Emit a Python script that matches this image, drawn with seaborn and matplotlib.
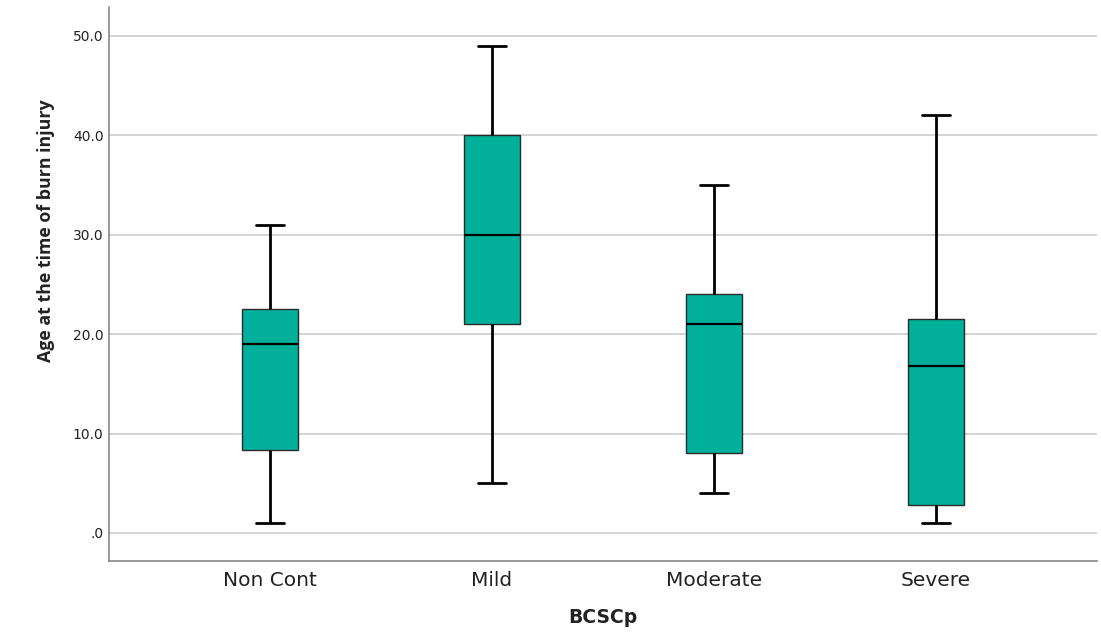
import numpy as np
import pandas as pd
import matplotlib
matplotlib.use("Agg")
import matplotlib.pyplot as plt
import seaborn as sns

# Groups of burn scar severity and the five-number summary of age per group
categories = ["Non Cont", "Mild", "Moderate", "Severe"]
age_min = [1.0, 5.0, 4.0, 1.0]
age_q1 = [8.3, 21.0, 8.0, 2.8]
age_median = [19.0, 30.0, 21.0, 16.8]
age_q3 = [22.5, 40.0, 24.0, 21.5]
age_max = [31.0, 49.0, 35.0, 42.0]
y_ticks = [0, 10, 20, 30, 40, 50]
y_tick_labels = [".0", "10.0", "20.0", "30.0", "40.0", "50.0"]

# Five points per group reproduce min, quartiles and max exactly
rows = []
for i, cat in enumerate(categories):
    for v in (age_min[i], age_q1[i], age_median[i], age_q3[i], age_max[i]):
        rows.append({"BCSCp": cat, "age": v})
df = pd.DataFrame(rows)

sns.set_theme(style="white")
plt.rcParams["font.family"] = ["DejaVu Sans"]

fig = plt.figure(figsize=(11.01, 6.43), dpi=100)
ax = fig.add_axes([0.099, 0.1275, 0.8974, 0.8615])

for t in y_ticks:
    ax.axhline(t, color="#c8c8c8", linewidth=1.1, zorder=0)

sns.boxplot(
    data=df, x="BCSCp", y="age", order=categories,
    color="#00b09b", saturation=1, width=0.25, whis=(0, 100),
    showfliers=False, ax=ax,
    boxprops=dict(edgecolor="#2a2a2a", linewidth=1.0, zorder=2),
    whiskerprops=dict(color="black", linewidth=2.0),
    capprops=dict(color="black", linewidth=2.0),
    medianprops=dict(color="black", linewidth=1.6),
)

ax.set_xlim(-0.725, 3.725)
ax.set_ylim(-2.82, 52.9)
ax.set_yticks(y_ticks)
ax.set_yticklabels(y_tick_labels, fontsize=10, color="#222222")
ax.tick_params(axis="x", labelsize=14.5, colors="#222222", length=0, pad=7)
ax.tick_params(axis="y", length=0, pad=4)

ax.set_xlabel("BCSCp", fontsize=13.5, fontweight="bold", labelpad=13, color="#222222")
ax.set_ylabel("Age at the time of burn injury", fontsize=12.8, fontweight="bold",
              family="Open Sans", labelpad=13, color="#222222")
ax.yaxis.label.set_y(0.597)

for side in ("top", "right"):
    ax.spines[side].set_visible(False)
for side in ("left", "bottom"):
    ax.spines[side].set_color("#888888")
    ax.spines[side].set_linewidth(1.2)

fig.savefig("out.png", dpi=100)
